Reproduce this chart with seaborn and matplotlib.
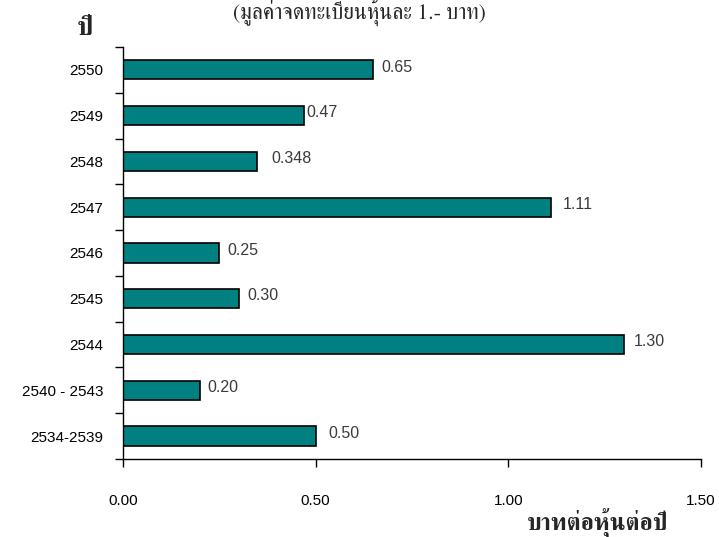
import matplotlib
matplotlib.use('Agg')
import numpy as np
import pandas as pd
import seaborn as sns
from matplotlib import pyplot as plt
from matplotlib.ticker import FixedLocator

years = ['2550', '2549', '2548', '2547', '2546', '2545', '2544', '2540 - 2543', '2534-2539']
dividends = [0.65, 0.47, 0.348, 1.11, 0.25, 0.30, 1.30, 0.20, 0.50]
value_labels = ['0.65', '0.47', '0.348', '1.11', '0.25', '0.30', '1.30', '0.20', '0.50']
label_pads = [6, 2, 10, 9, 6, 6, 7, 5, 9]

title = '(มูลค่าจดทะเบียนหุ้นละ 1.- บาท)'
ylabel = 'ปี'
xlabel = 'บาทต่อหุ้นต่อปี'

thai_serif = ['FreeSerif', 'Noto Serif Thai', 'DejaVu Serif']


def plot_dividends(data):
    sns.set_style('white')
    plt.rcParams['font.family'] = ['Liberation Sans', 'DejaVu Sans']

    fig = plt.figure(figsize=(7.19, 5.37), dpi=100)
    ax = fig.add_axes([0.171, 0.1453, 0.804, 0.7672])

    sns.barplot(
        data=data, x='value', y='year', orient='h', ax=ax,
        color='#008080', saturation=1, width=0.42,
        edgecolor='black', linewidth=1.2,
    )

    for i, (v, s, p) in enumerate(zip(data['value'], value_labels, label_pads)):
        ax.annotate(s, (v, i), xytext=(p, 2), textcoords='offset points',
                    ha='left', va='center', fontsize=11.5, color='#3a3a3a')

    ax.set_xlim(0, 1.5)
    ax.set_ylim(len(years) - 0.5, -0.5)
    ax.set_xticks([0, 0.5, 1.0, 1.5])
    ax.set_xticklabels(['0.00', '0.50', '1.00', '1.50'])
    ax.yaxis.set_minor_locator(FixedLocator(np.arange(-0.5, len(years), 1.0)))

    ax.tick_params(axis='x', which='major', direction='out', length=6, width=1,
                   color='black', pad=19, labelsize=11, labelcolor='black', bottom=True)
    ax.tick_params(axis='y', which='major', length=0, pad=14, labelsize=11,
                   labelcolor='black')
    ax.tick_params(axis='y', which='minor', direction='out', length=6, width=1,
                   color='black', left=True)

    sns.despine(ax=ax)
    for side in ('left', 'bottom'):
        ax.spines[side].set_color('black')
        ax.spines[side].set_linewidth(1)

    ax.set_xlabel('')
    ax.set_ylabel('')
    fig.text(0.5, 0.977, title, ha='center', va='center', fontsize=15.5,
             family=thai_serif)
    fig.text(0.118, 0.946, ylabel, ha='center', va='center', fontsize=19,
             fontweight='bold', family=thai_serif)
    fig.text(0.831, 0.026, xlabel, ha='center', va='center', fontsize=17,
             fontweight='bold', family=thai_serif)

    fig.savefig('out.png', dpi=100)
    plt.close(fig)


def main():
    data = pd.DataFrame({'year': years, 'value': dividends})
    plot_dividends(data)


if __name__ == '__main__':
    main()
